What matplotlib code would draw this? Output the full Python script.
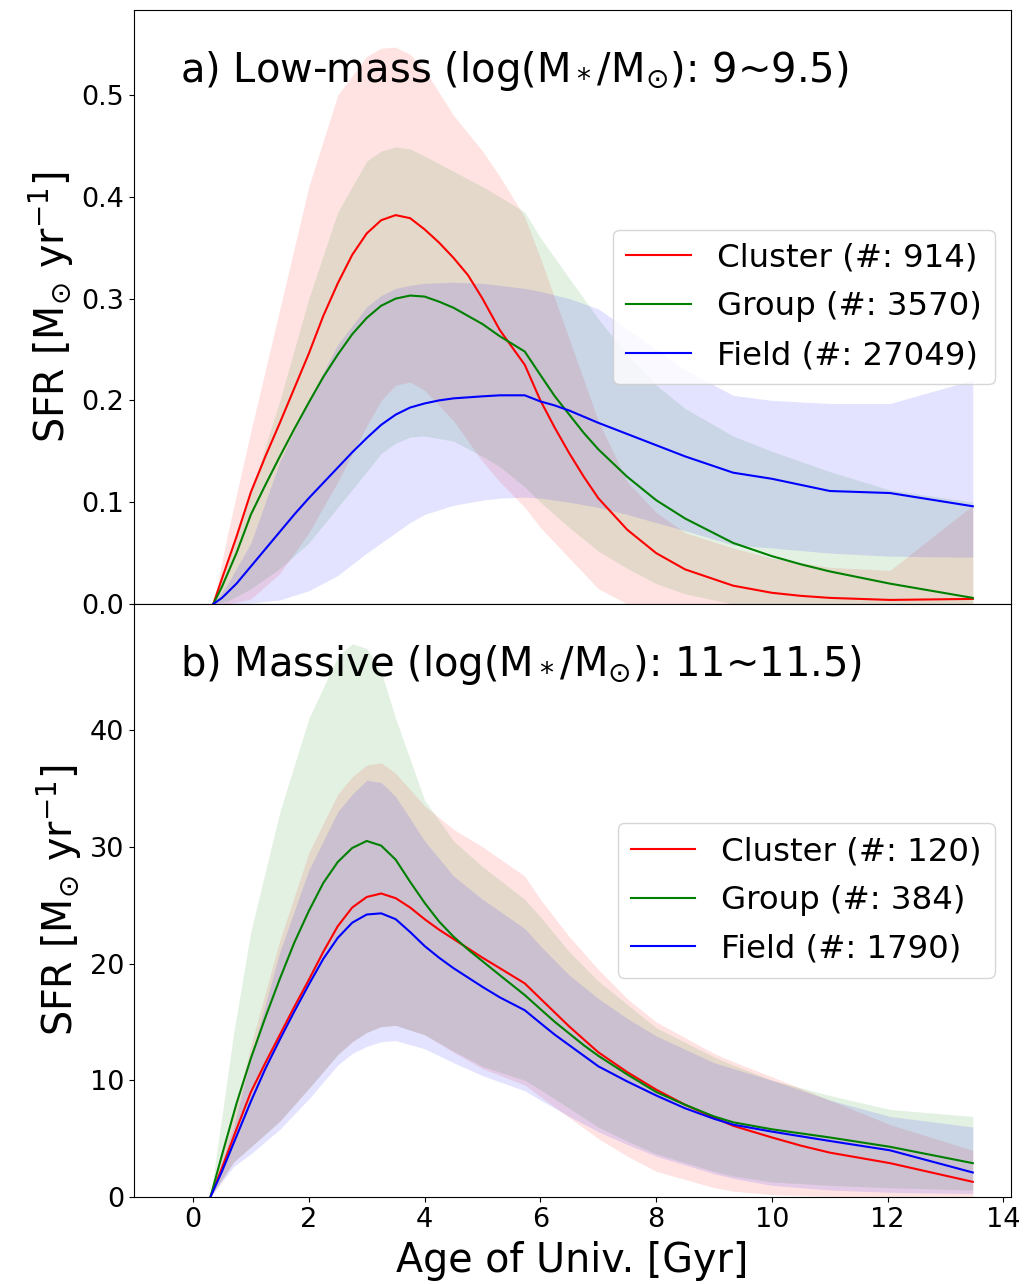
import numpy as np
import matplotlib
matplotlib.use("Agg")
import matplotlib.pyplot as plt

# ---------------- data ----------------
labels = ["Cluster", "Group", "Field"]
colors = ["red", "green", "blue"]

# ===== Panel a) low mass =====
n_a = [914, 3570, 27049]
# median lines
t_a_line = [0.35, 0.5, 0.75, 1.0, 1.25, 1.5, 1.75, 2.0, 2.25, 2.5, 2.75, 3.0, 3.25, 3.5, 3.75, 4.0,
            4.25, 4.5, 4.75, 5.0, 5.3, 5.73, 6.0, 6.25, 6.5, 6.75, 7.0, 7.5, 8.0, 8.5, 9.33, 10.0,
            10.5, 11.0, 12.04, 13.47]
cluster_a = [0, 0.025, 0.066, 0.11, 0.145, 0.178, 0.212, 0.246, 0.283, 0.315, 0.343, 0.364, 0.377, 0.382,
             0.379, 0.368, 0.355, 0.340, 0.323, 0.300, 0.269, 0.235, 0.200, 0.173, 0.148, 0.125, 0.104,
             0.073, 0.050, 0.034, 0.018, 0.011, 0.008, 0.006, 0.004, 0.005]
group_a = [0, 0.017, 0.050, 0.088, 0.117, 0.145, 0.172, 0.198, 0.223, 0.245, 0.265, 0.281, 0.293, 0.300,
           0.303, 0.302, 0.297, 0.291, 0.283, 0.275, 0.263, 0.248, 0.225, 0.204, 0.186, 0.168, 0.152,
           0.125, 0.102, 0.084, 0.060, 0.047, 0.039, 0.032, 0.020, 0.006]
field_a = [0, 0.006, 0.020, 0.037, 0.054, 0.071, 0.088, 0.104, 0.119, 0.134, 0.149, 0.163, 0.176, 0.186,
           0.193, 0.197, 0.200, 0.202, 0.203, 0.204, 0.205, 0.205, 0.199, 0.195, 0.190, 0.184, 0.178,
           0.167, 0.156, 0.145, 0.129, 0.123, 0.117, 0.111, 0.109, 0.096]
# 16-84 percentile bands
t_a = [0.35, 0.6, 1.0, 1.5, 2.0, 2.5, 3.0, 3.25, 3.5, 3.75, 4.0, 4.5, 5.0, 5.3, 5.73,
       6.0, 6.5, 7.0, 7.5, 8.0, 8.5, 9.33, 10.0, 11.0, 12.04, 13.47]
cluster_a_hi = [0, 0.07, 0.17, 0.29, 0.41, 0.5, 0.538, 0.546, 0.547, 0.54, 0.525, 0.48, 0.445, 0.42, 0.38,
                0.34, 0.26, 0.18, 0.12, 0.09, 0.07, 0.055, 0.045, 0.036, 0.033, 0.097]
cluster_a_lo = [0, 0, 0.005, 0.03, 0.07, 0.12, 0.175, 0.2, 0.215, 0.218, 0.21, 0.18, 0.14, 0.12, 0.095,
                0.075, 0.045, 0.015, 0, 0, 0, 0, 0, 0, 0, 0]
group_a_hi = [0, 0.04, 0.11, 0.2, 0.3, 0.385, 0.435, 0.445, 0.449, 0.447, 0.44, 0.425, 0.41, 0.4, 0.385,
              0.36, 0.32, 0.28, 0.245, 0.215, 0.192, 0.165, 0.15, 0.13, 0.112, 0.1]
group_a_lo = [0, 0.003, 0.015, 0.035, 0.06, 0.095, 0.13, 0.148, 0.158, 0.164, 0.165, 0.16, 0.145, 0.135, 0.115,
              0.1, 0.075, 0.052, 0.035, 0.02, 0.01, 0, 0, 0, 0, 0]
field_a_hi = [0, 0.02, 0.06, 0.14, 0.2, 0.255, 0.292, 0.303, 0.31, 0.313, 0.315, 0.316, 0.315, 0.313, 0.31,
              0.307, 0.3, 0.29, 0.27, 0.25, 0.23, 0.205, 0.2, 0.197, 0.197, 0.22]
field_a_lo = [0, 0, 0.001, 0.004, 0.013, 0.028, 0.05, 0.06, 0.07, 0.08, 0.088, 0.097, 0.102, 0.104, 0.105,
              0.104, 0.1, 0.095, 0.088, 0.08, 0.072, 0.058, 0.055, 0.05, 0.047, 0.046]

# ===== Panel b) massive =====
n_b = [120, 384, 1790]
t_b_line = [0.3, 0.5, 0.75, 1.0, 1.25, 1.5, 1.75, 2.0, 2.25, 2.5, 2.75, 3.0, 3.25, 3.5, 3.75, 4.0,
            4.25, 4.5, 4.75, 5.0, 5.3, 5.73, 6.0, 6.25, 6.5, 6.75, 7.0, 7.5, 8.0, 8.5, 9.0, 9.33,
            10.0, 10.5, 11.0, 12.04, 13.47]
cluster_b = [0, 2.5, 5.8, 9.0, 11.5, 13.9, 16.3, 18.6, 21.0, 23.2, 24.8, 25.7, 26.0, 25.6, 24.8, 23.8,
             22.9, 22.1, 21.3, 20.5, 19.6, 18.3, 17.0, 15.8, 14.6, 13.5, 12.4, 10.7, 9.2, 7.9, 6.8, 6.1,
             5.1, 4.4, 3.8, 2.9, 1.3]
group_b = [0, 3.6, 8.0, 11.9, 15.4, 18.7, 21.8, 24.5, 26.9, 28.7, 29.9, 30.5, 30.1, 28.9, 27.0, 25.2,
           23.6, 22.3, 21.2, 20.2, 19.0, 17.3, 16.1, 15.0, 14.0, 13.0, 12.1, 10.5, 9.0, 7.9, 6.9, 6.4,
           5.8, 5.45, 5.1, 4.3, 2.9]
field_b = [0, 2.2, 5.2, 8.2, 11.0, 13.5, 15.9, 18.2, 20.4, 22.2, 23.5, 24.2, 24.3, 23.8, 22.7, 21.5,
           20.5, 19.6, 18.8, 18.0, 17.1, 16.0, 14.9, 13.9, 13.0, 12.1, 11.2, 9.9, 8.7, 7.6, 6.7, 6.2,
           5.6, 5.2, 4.8, 4.0, 2.1]
t_b = [0.3, 0.7, 1.0, 1.5, 2.0, 2.5, 2.75, 3.0, 3.25, 3.5, 4.0, 4.5, 5.0, 5.73, 6.0,
       6.5, 7.0, 7.5, 8.0, 9.0, 9.33, 10.0, 11.0, 12.04, 13.47]
cluster_b_hi = [0, 7.0, 13.0, 22.0, 29.5, 34.5, 36.0, 37.0, 37.2, 36.3, 33.5, 31.5, 30.0, 27.5, 25.5,
                22.3, 19.5, 17.0, 15.0, 12.3, 11.6, 10.3, 8.3, 6.2, 4.0]
cluster_b_lo = [0, 3.0, 4.3, 6.5, 9.3, 12.2, 13.3, 14.1, 14.6, 14.7, 13.9, 12.4, 11.0, 9.6, 8.6,
                6.8, 5.0, 3.5, 2.2, 0.8, 0.5, 0.2, 0.05, 0.0, 0.0]
group_b_hi = [0, 14.0, 22.8, 33.0, 41.0, 46.3, 47.4, 47.0, 45.0, 41.0, 34.0, 30.5, 28.3, 25.5, 24.0,
              21.0, 18.5, 16.5, 14.5, 12.0, 11.3, 10.0, 8.7, 7.5, 6.9]
group_b_lo = [0, 3.0, 4.3, 6.5, 9.3, 12.2, 13.3, 14.1, 14.6, 14.7, 13.9, 12.5, 11.2, 10.0, 9.2,
              7.6, 6.0, 4.8, 3.7, 2.2, 1.8, 1.3, 1.0, 0.8, 0.6]
field_b_hi = [0, 6.0, 12.0, 21.0, 28.0, 33.0, 34.5, 35.7, 35.5, 34.3, 30.5, 27.5, 25.5, 23.0, 21.5,
              19.0, 17.0, 15.3, 13.8, 11.5, 11.0, 10.0, 8.3, 6.9, 6.0]
field_b_lo = [0, 2.6, 3.7, 5.8, 8.4, 11.3, 12.3, 12.9, 13.3, 13.4, 12.7, 11.5, 10.4, 9.1, 8.3,
              6.9, 5.6, 4.5, 3.5, 2.0, 1.6, 1.0, 0.6, 0.4, 0.3]

xticks = [0, 2, 4, 6, 8, 10, 12, 14]
yticks_a = [0.0, 0.1, 0.2, 0.3, 0.4, 0.5]
yticklabels_a = ["0.0", "0.1", "0.2", "0.3", "0.4", "0.5"]
yticks_b = [0, 10, 20, 30, 40]
yticklabels_b = ["0", "10", "20", "30", "40"]

# ---------------- plot ----------------
fig = plt.figure(figsize=(10.26, 12.84), dpi=100)
L, R = 134 / 1026, 1011 / 1026
top_px, mid_px, bot_px = 10, 604, 1197
H = 1284
ax1 = fig.add_axes([L, 1 - mid_px / H, R - L, (mid_px - top_px) / H])
ax2 = fig.add_axes([L, 1 - bot_px / H, R - L, (bot_px - mid_px) / H], sharex=ax1)

panels = [
    (ax1, t_a_line, [cluster_a, group_a, field_a], t_a,
     [(cluster_a_lo, cluster_a_hi), (group_a_lo, group_a_hi), (field_a_lo, field_a_hi)], n_a,
     r"a) Low-mass (log(M$_*$/M$_{\odot}$): 9~9.5)", (0, 0.5835), yticks_a, yticklabels_a),
    (ax2, t_b_line, [cluster_b, group_b, field_b], t_b,
     [(cluster_b_lo, cluster_b_hi), (group_b_lo, group_b_hi), (field_b_lo, field_b_hi)], n_b,
     r"b) Massive (log(M$_*$/M$_{\odot}$): 11~11.5)", (0, 50.8), yticks_b, yticklabels_b),
]

for ax, tl, meds, tb, bands, ns, title, ylim, yt, ytl in panels:
    for (lo, hi), c in zip(bands, colors):
        ax.fill_between(tb, lo, hi, color=c, alpha=0.11, linewidth=0)
    for med, c, lab, n in zip(meds, colors, labels, ns):
        ax.plot(tl, med, color=c, lw=1.5, label=f"{lab} (#: {n})", zorder=3)
    ax.set_ylim(*ylim)
    ax.set_yticks(yt)
    ax.set_yticklabels(ytl)
    ax.tick_params(axis="both", labelsize=19.5)
    ax.set_ylabel(r"SFR [M$_{\odot}$ yr$^{-1}$]", fontsize=28.5)
    ax.text(0.052, 0.879, title, transform=ax.transAxes, fontsize=28.8, va="baseline", ha="left")
    ax.legend(loc="center right", fontsize=23.3, labelspacing=0.55)

ax1.set_xlim(-1.02, 14.13)
ax2.set_xticks(xticks)
ax1.tick_params(axis="x", labelbottom=False)
ax2.set_xlabel("Age of Univ. [Gyr]", fontsize=28.5, labelpad=6)

fig.savefig("out.png", dpi=100)
